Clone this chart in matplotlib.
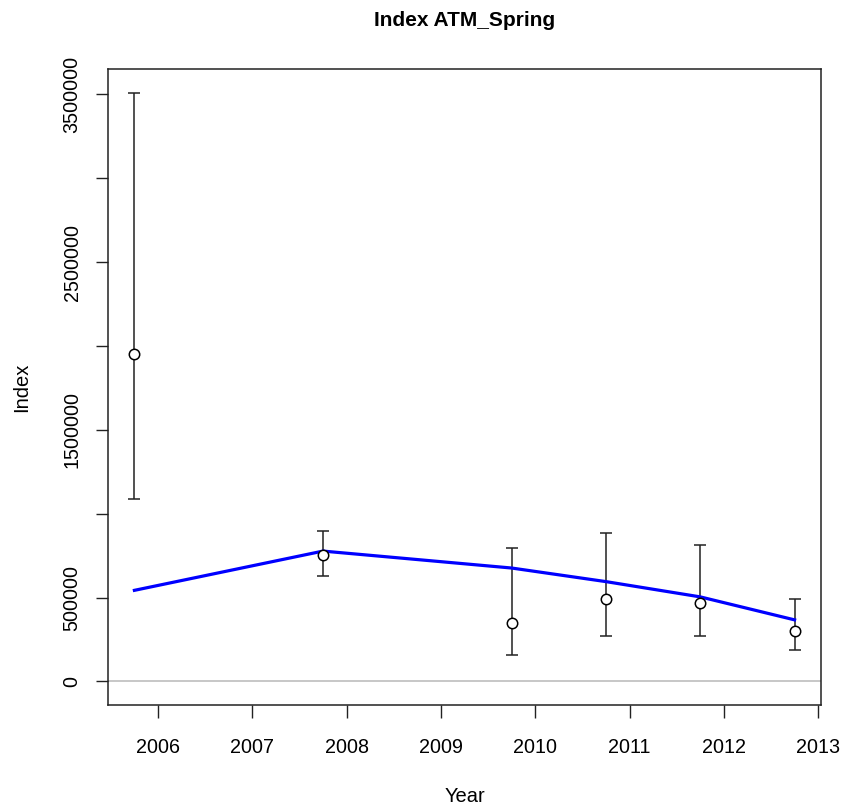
import matplotlib
matplotlib.use("Agg")
import matplotlib.pyplot as plt
import numpy as np

plt.rcParams['font.family'] = ['Liberation Sans', 'DejaVu Sans']

# Survey index with confidence limits and fitted model index
years = [2005.75, 2007.75, 2009.75, 2010.75, 2011.75, 2012.75]
observed = [1954000, 752000, 351000, 492000, 466000, 301000]
lower = [1085000, 629000, 155000, 270000, 270000, 186000]
upper = [3510000, 896000, 798000, 887000, 811000, 490000]
fitted = [543000, 777000, 676000, 595000, 504000, 367000]

year_ticks = [2006, 2007, 2008, 2009, 2010, 2011, 2012, 2013]
index_ticks = [0, 500000, 1000000, 1500000, 2000000, 2500000, 3000000, 3500000]
index_labels = ['0', '500000', '', '1500000', '', '2500000', '', '3500000']

W, H, DPI = 846, 808, 100
fig = plt.figure(figsize=(W / DPI, H / DPI), dpi=DPI)
left, right, top, bottom = 108, 821, 69, 705
ax = fig.add_axes([left / W, 1 - bottom / H, (right - left) / W, (bottom - top) / H])

yr = np.array(years)
obs = np.array(observed)
lo = np.array(lower)
hi = np.array(upper)

ax.axhline(0, color='#bebebe', lw=1.2, zorder=1)
ax.errorbar(yr, obs, yerr=[obs - lo, hi - obs], fmt='none', ecolor='#222222',
            elinewidth=1.1, capsize=4, capthick=1.1, zorder=2)
ax.plot(yr, fitted, color='#0000ff', lw=2.3, zorder=3)
ax.plot(yr, obs, 'o', mfc='white', mec='black', mew=1.1, ms=7.5, zorder=4)

xr = yr.max() - yr.min()
ax.set_xlim(yr.min() - 0.04 * xr, yr.max() + 0.04 * xr)
ymax = hi.max()
ax.set_ylim(0 - 0.04 * ymax, ymax + 0.04 * ymax)

ax.set_xticks(year_ticks)
ax.set_xticklabels([str(y) for y in year_ticks])
ax.set_yticks(index_ticks)
ax.set_yticklabels(index_labels, rotation=90, va='center')

ax.tick_params(axis='both', length=9, width=1, color='#222222', labelsize=14.2)
ax.tick_params(axis='x', pad=15)
ax.tick_params(axis='y', pad=10)
for s in ax.spines.values():
    s.set_linewidth(1.1)
    s.set_color('#222222')

ax.set_xlabel('Year', fontsize=14.5, labelpad=21)
ax.set_ylabel('Index', fontsize=14.5, labelpad=23)
ax.set_title('Index ATM_Spring', fontsize=15, fontweight='bold', pad=31)

fig.savefig('out.png', dpi=DPI)
